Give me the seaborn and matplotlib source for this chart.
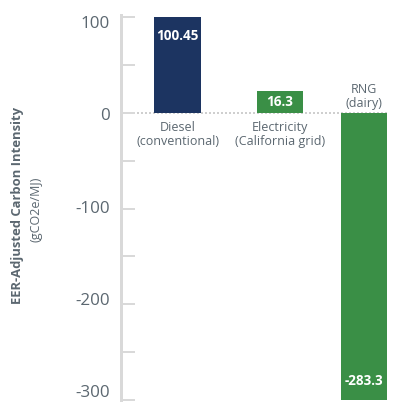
import matplotlib
matplotlib.use("Agg")
import matplotlib.pyplot as plt
import seaborn as sns
import numpy as np
from matplotlib.ticker import MultipleLocator

# ---- data ----
categories = ["Diesel\n(conventional)", "Electricity\n(California grid)", "RNG\n(dairy)"]
value_labels = ["100.45", "16.3", "-283.3"]
# bar heights as drawn in the reference picture
bar_heights = [100.45, 23.0, -300.0]
bar_colors = ["#1c3461", "#3a8f46", "#3a8f46"]
yticks = [100, 0, -100, -200, -300]
ytick_labels = ["100", "0", "-100", "-200", "-300"]

# ---- layout ----
sns.set_theme(style="white")
plt.rcParams["font.family"] = ["Open Sans", "DejaVu Sans"]
DPI = 100
W, H = 407, 420
PX = 72.0 / DPI  # points per pixel
YMIN, YMAX = -300, 102.4
AX_H = 385  # axes height px

fig = plt.figure(figsize=(W / DPI, H / DPI), dpi=DPI)
ax = fig.add_axes([121 / W, 20 / H, (387 - 121) / W, AX_H / H])

sns.barplot(x=categories, y=bar_heights, hue=categories, palette=bar_colors,
            legend=False, width=0.5, saturation=1, ax=ax, order=categories)

# slight offsets for reference bar placement
x_shift = [0.0, 0.1, 0.0]
for p, dx in zip(ax.patches, x_shift):
    p.set_x(p.get_x() + dx)
    p.set_edgecolor("none")

ax.set_xlim(-0.606, 2.247)
ax.set_ylim(YMIN, YMAX)

grey_text = "#5b6770"
spine_col = "#d9d9d9"

for s in ["top", "right", "bottom"]:
    ax.spines[s].set_visible(False)
ax.spines["left"].set_color(spine_col)
ax.spines["left"].set_linewidth(3 * PX)

ax.set_yticks(yticks)
ax.yaxis.set_minor_locator(MultipleLocator(50))
ax.tick_params(axis="y", which="both", direction="in", length=14 * PX,
               width=2 * PX, color=spine_col, left=True, labelleft=False)
ax.set_xticks([])
ax.set_xlabel("")
ax.set_ylabel("")

# tick labels (reference places them slightly compressed relative to ticks)
for i, (t, lab) in enumerate(zip(yticks, ytick_labels)):
    dy = 6.7 - 3.4 * i  # px downward
    ax.annotate(lab, (0, t), xycoords=("axes fraction", "data"),
                xytext=(-11 * PX, -dy * PX), textcoords="offset points",
                ha="right", va="center", fontsize=17 * PX, color=grey_text)

# zero line
ax.axhline(0, color="#cfcfcf", lw=2 * PX, ls=(0, (1, 1)), zorder=0.5)

# value labels and category labels
fs_val = 13.5 * PX
fs_cat = 12.5 * PX
for p, lab, cat, h in zip(ax.patches, value_labels, categories, bar_heights):
    cx = p.get_x() + p.get_width() / 2
    bar_px = abs(h) * AX_H / (YMAX - YMIN)
    off = 19 if bar_px > 40 else bar_px / 2
    sign = -1 if h > 0 else 1
    ax.annotate(lab, (cx, h), xytext=(0, sign * off * PX), textcoords="offset points",
                ha="center", va="center", color="white", fontsize=fs_val,
                fontweight="bold")
    if h > 0:
        ax.annotate(cat, (cx, 0), xytext=(0, -8 * PX), textcoords="offset points",
                    ha="center", va="top", color=grey_text, fontsize=fs_cat,
                    linespacing=1.1)
    else:
        ax.annotate(cat, (cx, 0), xytext=(0, 3 * PX), textcoords="offset points",
                    ha="center", va="bottom", color=grey_text, fontsize=fs_cat,
                    linespacing=1.1)

# y-axis title
fig.text(18 / W, 1 - 206 / H, "EER-Adjusted Carbon Intensity", rotation=90,
         ha="center", va="center", fontsize=13 * PX, fontweight="bold",
         color=grey_text)
fig.text(36 / W, 1 - 209 / H, "(gCO2e/MJ)", rotation=90, ha="center", va="center",
         fontsize=12.5 * PX, color=grey_text)

fig.savefig("out.png", dpi=DPI)
